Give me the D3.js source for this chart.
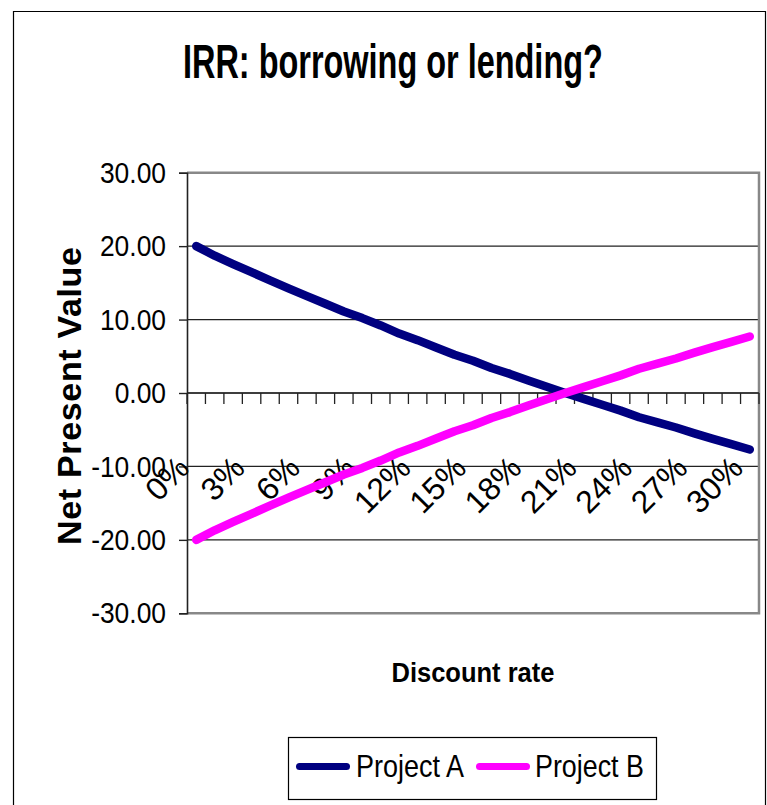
<!DOCTYPE html>
<html>
<head>
<meta charset="utf-8">
<script src="https://cdn.jsdelivr.net/npm/d3@7"></script>
<style>
  html, body { margin: 0; padding: 0; background: #fff; }
  svg { display: block; font-family: "Liberation Sans", Arial, sans-serif; }
</style>
</head>
<body>
<svg id="chart" width="767" height="805"></svg>
<script>
// ---- data ----
const categories = ["0%","1%","2%","3%","4%","5%","6%","7%","8%","9%","10%",
  "11%","12%","13%","14%","15%","16%","17%","18%","19%","20%",
  "21%","22%","23%","24%","25%","26%","27%","28%","29%","30%"];
const projectA = [20.00, 18.70, 17.55, 16.45, 15.35, 14.25, 13.20, 12.15, 11.10, 10.20, 9.20,
  8.10, 7.20, 6.20, 5.20, 4.40, 3.40, 2.60, 1.70, 0.85, 0.00,
  -0.80, -1.60, -2.40, -3.30, -4.00, -4.70, -5.50, -6.25, -6.95, -7.70];
const projectB = [-20.00, -18.70, -17.55, -16.45, -15.35, -14.25, -13.20, -12.15, -11.10, -10.20, -9.20,
  -8.10, -7.20, -6.20, -5.20, -4.40, -3.40, -2.60, -1.70, -0.85, 0.00,
  0.80, 1.60, 2.40, 3.30, 4.00, 4.70, 5.50, 6.25, 6.95, 7.70];
const yTicks = [30, 20, 10, 0, -10, -20, -30];
const xTickLabels = ["0%","3%","6%","9%","12%","15%","18%","21%","24%","27%","30%"];
const seriesNames = ["Project A", "Project B"];
const seriesColors = ["#000080", "#FF00FF"];

// ---- layout ----
const plot = { left: 187, right: 759, top: 172.7, bottom: 613.3 };
const svg = d3.select("#chart");

// helper: squeeze a text horizontally to a target width using a transform
function fitWidth(sel, targetW, sy) {
  sel.each(function() {
    const w = this.getComputedTextLength();
    const t = d3.select(this);
    const base = t.attr("data-base") || "";
    t.attr("transform", `${base} scale(${targetW / w},${sy || 1})`);
  });
}

// outer chart border
svg.append("path")
  .attr("d", "M13.5,806 V11.5 H765.5 V806")
  .attr("fill", "none").attr("stroke", "#000").attr("stroke-width", 1.2);

const x = d3.scaleBand().domain(categories).range([plot.left, plot.right]).padding(0);
const y = d3.scaleLinear().domain([-30, 30]).range([plot.bottom, plot.top]);
const cx = c => x(c) + x.bandwidth() / 2;

// gridlines
svg.append("g").selectAll("line")
  .data(yTicks.filter(v => v !== 30 && v !== -30))
  .join("line")
  .attr("x1", plot.left).attr("x2", plot.right)
  .attr("y1", d => y(d)).attr("y2", d => y(d))
  .attr("stroke", "#222").attr("stroke-width", 1.2);

// plot border (top, right, bottom) gray
svg.append("path")
  .attr("d", `M${plot.left},${y(30)} H${plot.right} V${y(-30)} H${plot.left}`)
  .attr("fill", "none").attr("stroke", "#888").attr("stroke-width", 2.5);

// y axis
const yAxis = svg.append("g")
  .attr("transform", `translate(${plot.left},0)`)
  .call(d3.axisLeft(y).tickValues(yTicks).tickSize(8).tickPadding(12)
    .tickFormat(d => d.toFixed(2)));
yAxis.select(".domain").attr("stroke", "#222").attr("stroke-width", 1.6);
yAxis.selectAll(".tick line").attr("stroke", "#222").attr("stroke-width", 1.4);
yAxis.selectAll(".tick text")
  .attr("font-size", 30).attr("fill", "#000")
  .attr("font-family", "'Liberation Sans', Arial, sans-serif")
  .attr("x", 0)
  .attr("transform", `translate(${166 - plot.left},0) scale(0.88,1)`);

// x axis line at 0 with ticks at band boundaries
const y0 = y(0);
svg.append("line")
  .attr("x1", plot.left).attr("x2", plot.right)
  .attr("y1", y0).attr("y2", y0)
  .attr("stroke", "#222").attr("stroke-width", 1.4);
const boundaries = categories.map(c => x(c)).concat([x(categories[categories.length - 1]) + x.bandwidth()]);
svg.append("g").selectAll("line")
  .data(boundaries)
  .join("line")
  .attr("x1", d => d).attr("x2", d => d)
  .attr("y1", y0).attr("y2", y0 + 11)
  .attr("stroke", "#222").attr("stroke-width", 1.3);

// x tick labels rotated
svg.append("g").selectAll("text")
  .data(xTickLabels)
  .join("text")
  .attr("transform", d => `translate(${cx(d) - 5},${470}) rotate(-45)`)
  .attr("text-anchor", "end")
  .attr("font-size", 32)
  .attr("fill", "#000")
  .text(d => d);

// lines
const line = d3.line().x((d, i) => cx(categories[i])).y(d => y(d));
[projectA, projectB].forEach((s, k) => {
  svg.append("path")
    .datum(s)
    .attr("d", line)
    .attr("fill", "none")
    .attr("stroke", seriesColors[k])
    .attr("stroke-width", 8.5)
    .attr("stroke-linecap", "round")
    .attr("stroke-linejoin", "round");
});

// title
const title = svg.append("text")
  .attr("x", 0).attr("y", 0)
  .attr("font-size", 48).attr("font-weight", "bold")
  .attr("data-base", "translate(183,78)")
  .text("IRR: borrowing or lending?");
fitWidth(title, 420, 1);

// x axis title
const xTitle = svg.append("text")
  .attr("x", 0).attr("y", 0)
  .attr("font-size", 28).attr("font-weight", "bold")
  .attr("data-base", "translate(391.5,681.5)")
  .text("Discount rate");
fitWidth(xTitle, 163, 1);

// y axis title
svg.append("text")
  .attr("transform", "translate(80.5,545) rotate(-90)")
  .attr("font-size", 34).attr("font-weight", "bold")
  .attr("textLength", 298).attr("lengthAdjust", "spacing")
  .text("Net Present Value");

// legend
const legend = svg.append("g");
legend.append("rect")
  .attr("x", 288.5).attr("y", 737.5).attr("width", 368).attr("height", 62)
  .attr("fill", "#fff").attr("stroke", "#000").attr("stroke-width", 1.2);
const legendItems = [
  { lx1: 299.5, lx2: 346.5, tx: 356, tw: 108 },
  { lx1: 479.5, lx2: 526.5, tx: 535, tw: 109 }
];
legendItems.forEach((it, k) => {
  legend.append("line")
    .attr("x1", it.lx1).attr("x2", it.lx2)
    .attr("y1", 766.5).attr("y2", 766.5)
    .attr("stroke", seriesColors[k]).attr("stroke-width", 7)
    .attr("stroke-linecap", "round");
  const t = legend.append("text")
    .attr("x", 0).attr("y", 0)
    .attr("font-size", 32)
    .attr("data-base", `translate(${it.tx},777)`)
    .text(seriesNames[k]);
  fitWidth(t, it.tw, 1);
});
</script>
</body>
</html>
